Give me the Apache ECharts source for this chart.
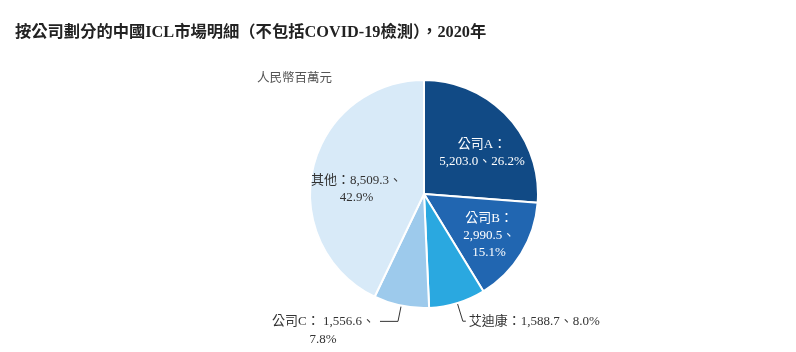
<!DOCTYPE html>
<html>
<head>
<meta charset="utf-8">
<script src="https://cdn.jsdelivr.net/npm/echarts@6/dist/echarts.min.js"></script>
<style>
  html, body { margin: 0; padding: 0; background: #fff; }
  #chart { width: 796px; height: 352px; }
</style>
</head>
<body>
<div id="chart"></div>
<script>
// data
var companies = ['公司A', '公司B', '艾迪康', '公司C', '其他'];
var revenue = [5203.0, 2990.5, 1588.7, 1556.6, 8509.3];
var shares = ['26.2%', '15.1%', '8.0%', '7.8%', '42.9%'];
var colors = ['#114a85', '#2166b1', '#2aa8e0', '#9dcaec', '#d8eaf8'];

var serif = '"Liberation Serif", "Noto Sans CJK TC", serif';

function fmt(v) {
	return v.toLocaleString('en-US', {minimumFractionDigits: 1, maximumFractionDigits: 1});
}

// label text per slice
var labelText = [
	companies[0] + '：\n' + fmt(revenue[0]) + '、' + shares[0],
	companies[1] + '：\n' + fmt(revenue[1]) + '、\n' + shares[1],
	companies[2] + '：' + fmt(revenue[2]) + '、' + shares[2],
	'{a|' + companies[3] + '： ' + fmt(revenue[3]) + '、}\n{b|' + shares[3] + '}',
	companies[4] + '：' + fmt(revenue[4]) + '、\n' + shares[4]
];

var labelOpts = [
	{ position: 'inside', color: '#fff', offset: [14, 0] },
	{ position: 'inside', color: '#fff', offset: [14, 10] },
	{ position: 'outside', color: '#333', distanceToLabelLine: 3 },
	{ position: 'outside', color: '#333', padding: [18, 0, 0, 0],
	  rich: { a: { fontFamily: serif, fontSize: 13, color: '#333', lineHeight: 18 },
	          b: { fontFamily: serif, fontSize: 13, color: '#333', lineHeight: 18, width: 104, align: 'center' } } },
	{ position: 'inside', color: '#333', offset: [-9, 8] }
];

var lineOpts = [
	{}, {},
	{ length: 19, length2: 3 },
	{ length: 16, length2: 18 },
	{}
];

var pieData = companies.map(function(name, i) {
	return {
		name: name,
		value: revenue[i],
		itemStyle: { color: colors[i] },
		label: Object.assign({ formatter: labelText[i] }, labelOpts[i]),
		labelLine: lineOpts[i]
	};
});

var chart = echarts.init(document.getElementById('chart'));
chart.setOption({
	backgroundColor: '#fff',
	animation: false,
	title: [{
		text: '按公司劃分的中國ICL市場明細（不包括COVID-19檢測），2020年',
		left: 10, top: 20,
		textStyle: { fontFamily: serif, fontSize: 16.3, fontWeight: 'bold', color: '#222' }
	}, {
		text: '人民幣百萬元',
		left: 252, top: 67,
		textStyle: { fontFamily: serif, fontSize: 12.5, fontWeight: 'normal', color: '#555' }
	}],
	series: [{
		type: 'pie',
		center: [424, 194],
		radius: [0, 114],
		startAngle: 90,
		clockwise: true,
		avoidLabelOverlap: false,
		itemStyle: { borderColor: '#fff', borderWidth: 2 },
		label: {
			fontFamily: serif,
			fontSize: 13,
			lineHeight: 17
		},
		labelLine: {
			show: true,
			length: 14,
			length2: 8,
			lineStyle: { color: '#333', width: 1 }
		},
		data: pieData
	}]
});
</script>
</body>
</html>
